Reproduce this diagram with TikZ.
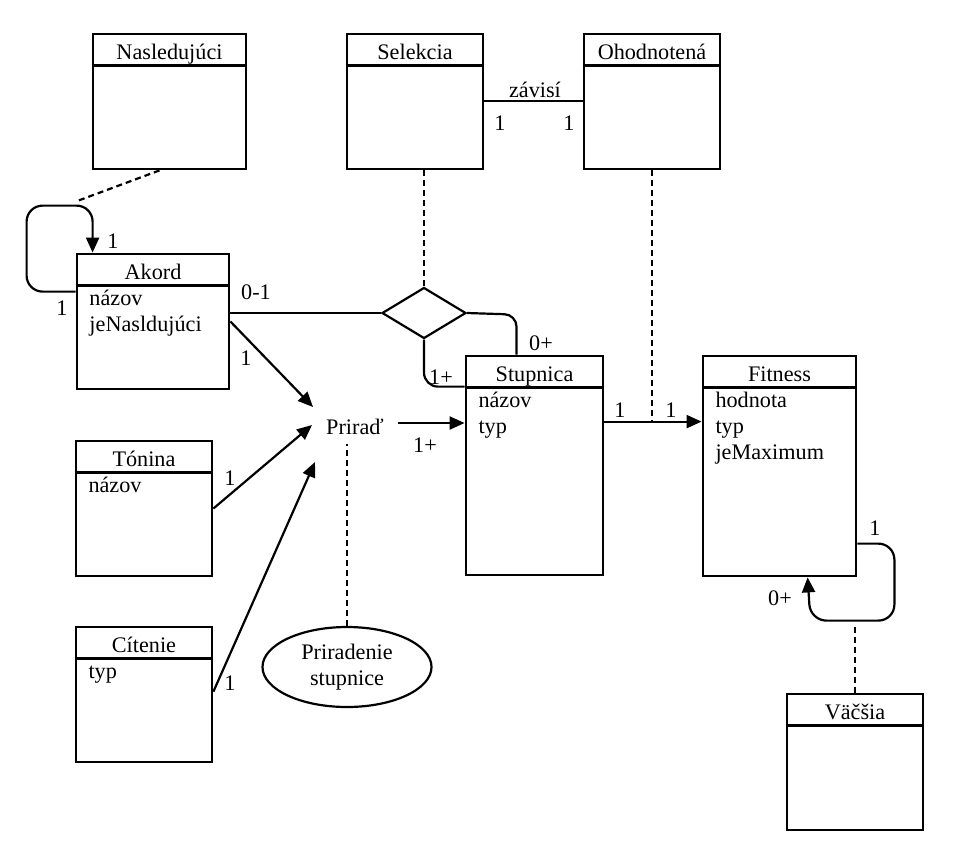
\documentclass[tikz,border=0pt]{standalone}
\usepackage{fontspec}
\setmainfont{Liberation Serif}
\usetikzlibrary{shapes.geometric,arrows.meta,calc}

\tikzset{
  every node/.style={font=\fontsize{11.1}{13}\selectfont, inner sep=0pt},
  clsbox/.style={draw, line width=1.4pt, rectangle, inner sep=0pt},
  conn/.style={line width=1.1pt},
  arr/.style={line width=1.1pt, -{Triangle[length=7.5pt,width=6.5pt]}},
  dshthin/.style={line width=0.7pt, dash pattern=on 3pt off 2pt},
  dshthick/.style={line width=1.1pt, dash pattern=on 3pt off 2pt},
}

\newcommand{\umlcls}[7]{%
  \node[clsbox, minimum width={(#4-#2)*0.5pt}, minimum height={(#5-#3)*0.5pt}] (#1) at ({(#2+#4)/2},{(#3+#5)/2}) {};
  \draw[line width=1.4pt] ($(#1.north west)+(0,33)$) -- ($(#1.north east)+(0,33)$);
  \node[anchor=base] (#1-t) at ($(#1.north)+(0,27)$) {#6};
  \node[anchor=base west] (#1-a) at ($(#1.north west)+(13.5,53)$) {\vtop{\baselineskip=13pt #7}};
}

\begin{document}
\begin{tikzpicture}[x=0.5pt,y=-0.5pt]
\useasboundingbox (0,0) rectangle (965,858);

% classes
\umlcls{nasl}{93}{34}{246}{169}{Nasledujúci}{}
\umlcls{selek}{347}{34}{483}{169}{Selekcia}{}
\umlcls{ohod}{584}{34}{720}{169}{Ohodnotená}{}
\umlcls{akord}{77}{254}{229}{389}{Akord}{\hbox{názov}\hbox{jeNasldujúci}}
\umlcls{stup}{466}{356}{603}{575}{Stupnica}{\hbox{názov}\hbox{typ}}
\umlcls{fit}{703}{356}{856}{576}{Fitness}{\hbox{hodnota}\hbox{typ}\hbox{jeMaximum}}
\umlcls{ton}{76}{441}{212}{576}{Tónina}{\hbox{názov}}
\umlcls{cit}{76}{627}{212}{762}{Cítenie}{\hbox{typ}}
\umlcls{vac}{787}{694}{923}{830}{Väčšia}{}

% other nodes
\node[diamond, draw, line width=1.1pt, minimum width=42pt, minimum height=25.5pt] (dia) at (424,313) {};
\node (prirad) at (355,427) {Priraď};
\node[ellipse, draw, line width=1.1pt, minimum width=84.5pt, minimum height=40pt, align=center] (ell) at (347,667) {Priradenie\\stupnice};

% Akord self loop
\draw[arr, rounded corners=8pt] ($(akord.north west)+(0,39)$) -- ++(-49,0) -- ++(0,-86) -- ++(66,0) -- ($(akord.north west)+(17,0)$);
\coordinate (naslend) at ($(akord.north west)+(0,-51)$);
\draw[dshthick] ($(nasl.south)+(-10,0)$) -- (naslend);

% Akord - diamond
\draw[conn] (akord.east |- dia.west) -- (dia.west);
\draw[dshthin] (dia.north) -- (dia.north |- selek.south);
\draw[conn] ($(selek.north east)+(0,68)$) -- ($(ohod.north west)+(0,68)$);
\draw[conn, rounded corners=6pt] (dia.east) -- ($(stup.north)+(-18,-40)$) -- ($(stup.north)+(-18,0)$);
\draw[conn, rounded corners=7pt] (dia.south) |- ($(stup.north west)+(0,32)$);

% arrows into Prirad
\draw[arr] (akord.east) -- ($(prirad.center)+(-42,-20)$);
\draw[arr] (ton.east) -- ($(prirad.center)+(-43,-2)$);
\draw[arr] ($(cit.north east)+(0,66)$) -- ($(prirad.center)+(-40,35)$);
\coordinate (pa) at ($(prirad.center)+(43,-4)$);
\draw[arr] (pa) -- (pa -| stup.west);
\draw[dshthin] (ell.north) -- ++(0,-182);

% Stupnica -> Fitness
\coordinate (sf) at ($(stup.north east)+(0,67)$);
\draw[arr] (sf) -- (sf -| fit.west);
\draw[dshthin] (ohod.south) -- (ohod.south |- sf);

% Fitness loop
\draw[arr, rounded corners=8pt] ($(fit.north east)+(0,189)$) -- ++(37,0) -- ++(0,77) -- ++(-84,0) -- ($(fit.south west)+(106,0)$);
\draw[dshthick] (vac.north) -- ++(0,-67);

% labels
\node (lzav) at (535,90) {závisí};
\node (lz1) at (500,123) {1};
\node (lz2) at (569,123) {1};
\node (la1) at (113,241) {1};
\node (la2) at (62,308) {1};
\node (l01) at (256,292) {0-1};
\node (la3) at (246,358) {1};
\node (l0p) at (541,343) {0+};
\node (l1p) at (441,377) {1+};
\node (l1p2) at (425,445) {1+};
\node (lsf1) at (620,410) {1};
\node (lsf2) at (671,410) {1};
\node (lt1) at (230,478) {1};
\node (lc1) at (230,683) {1};
\node (lf1) at (875,528) {1};
\node (lf2) at (780,598) {0+};
\end{tikzpicture}
\end{document}
